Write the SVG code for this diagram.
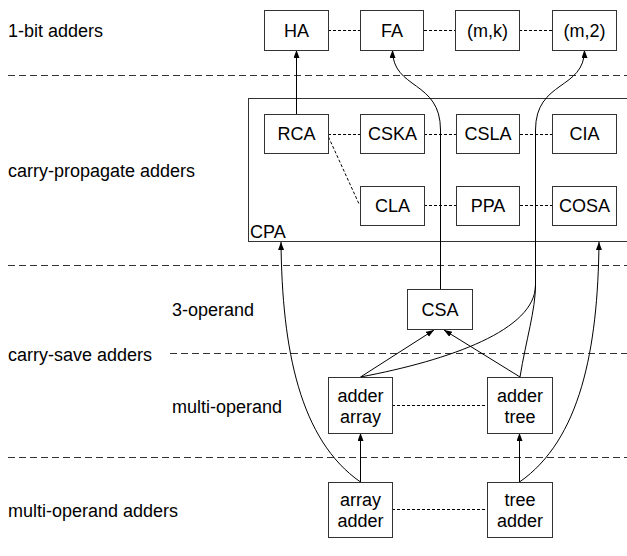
<svg xmlns="http://www.w3.org/2000/svg" width="627" height="556" viewBox="0 0 627 556">
<style>
text{font-family:"Liberation Sans",Arial,sans-serif;font-size:18px;fill:#000}
.c{text-anchor:middle}
.box{fill:#fff;stroke:#333;stroke-width:1}
.sep{stroke:#333;stroke-width:1;stroke-dasharray:7,4;fill:none}
.dot{stroke:#000;stroke-width:1;stroke-dasharray:3,2;fill:none}
.ln{stroke:#000;stroke-width:1;fill:none}
</style>
<defs>
<marker id="ah" markerUnits="userSpaceOnUse" markerWidth="9" markerHeight="8" refX="8" refY="3" orient="auto">
<path d="M0,0 L8,3 L0,6 z" fill="#000"/>
</marker>
</defs>
<rect width="627" height="556" fill="#fff"/>
<g id="separators">
<line class="sep" x1="8" y1="75.5" x2="627" y2="75.5"/>
<line class="sep" x1="8" y1="265.5" x2="627" y2="265.5"/>
<line class="sep" x1="170" y1="353.5" x2="627" y2="353.5"/>
<line class="sep" x1="8" y1="457.5" x2="627" y2="457.5"/>
</g>
<g id="labels">
<text x="8" y="37">1-bit adders</text>
<text x="8" y="177">carry-propagate adders</text>
<text x="172" y="316">3-operand</text>
<text x="8" y="361">carry-save adders</text>
<text x="172" y="413">multi-operand</text>
<text x="8" y="517">multi-operand adders</text>
</g>
<g id="CPA"><rect class="box" x="248.5" y="98.5" width="390" height="143"/><text x="250" y="238">CPA</text></g>
<g id="connectors">
<line class="dot" x1="328" y1="30.5" x2="360" y2="30.5"/>
<line class="dot" x1="424" y1="30.5" x2="455" y2="30.5"/>
<line class="dot" x1="519" y1="30.5" x2="552" y2="30.5"/>
<line class="dot" x1="328" y1="134.5" x2="360" y2="134.5"/>
<line class="dot" x1="424" y1="134.5" x2="456" y2="134.5"/>
<line class="dot" x1="520" y1="134.5" x2="552" y2="134.5"/>
<line class="dot" x1="424" y1="205.5" x2="456" y2="205.5"/>
<line class="dot" x1="520" y1="205.5" x2="552" y2="205.5"/>
<line class="dot" x1="328.5" y1="137" x2="359.5" y2="205"/>
<line class="dot" x1="392" y1="405.5" x2="487" y2="405.5"/>
<line class="dot" x1="392" y1="509.5" x2="487" y2="509.5"/>
<line class="ln" x1="296.5" y1="114" x2="296.5" y2="50" marker-end="url(#ah)"/>
<path class="ln" d="M440.5,289 L440.5,130 C440.5,80 392.5,90 392.5,50" marker-end="url(#ah)"/>
<path class="ln" d="M360.5,377 C450,360 535.5,330 535.5,285 L535.5,130 C535.5,80 584.5,90 584.5,50" marker-end="url(#ah)"/>
<path class="ln" d="M520,377 C526,340 535.5,310 535.5,285"/>
<line class="ln" x1="360.5" y1="377" x2="434" y2="330" marker-end="url(#ah)"/>
<line class="ln" x1="520" y1="377" x2="444" y2="330" marker-end="url(#ah)"/>
<line class="ln" x1="360.5" y1="482" x2="360.5" y2="433" marker-end="url(#ah)"/>
<line class="ln" x1="519.5" y1="482" x2="519.5" y2="433" marker-end="url(#ah)"/>
<path class="ln" d="M360.5,482 C300,440 282,350 281,242" marker-end="url(#ah)"/>
<path class="ln" d="M519.5,482 C580,440 598,350 599,242" marker-end="url(#ah)"/>
</g>
<g id="HA"><rect class="box" x="264.5" y="10.5" width="64" height="40"/><text class="c" x="296.5" y="37">HA</text></g>
<g id="FA"><rect class="box" x="360.5" y="10.5" width="63" height="40"/><text class="c" x="392" y="37">FA</text></g>
<g id="mk"><rect class="box" x="455.5" y="10.5" width="64" height="40"/><text class="c" x="487.5" y="37">(m,k)</text></g>
<g id="m2"><rect class="box" x="552.5" y="10.5" width="64" height="40"/><text class="c" x="584.5" y="37">(m,2)</text></g>
<g id="RCA"><rect class="box" x="264.5" y="114.5" width="64" height="39"/><text class="c" x="296.5" y="140">RCA</text></g>
<g id="CSKA"><rect class="box" x="360.5" y="114.5" width="64" height="39"/><text class="c" x="392.5" y="140">CSKA</text></g>
<g id="CSLA"><rect class="box" x="456.5" y="114.5" width="63" height="39"/><text class="c" x="488" y="140">CSLA</text></g>
<g id="CIA"><rect class="box" x="552.5" y="114.5" width="64" height="39"/><text class="c" x="584.5" y="140">CIA</text></g>
<g id="CLA"><rect class="box" x="360.5" y="186.5" width="64" height="39"/><text class="c" x="392.5" y="212">CLA</text></g>
<g id="PPA"><rect class="box" x="456.5" y="186.5" width="63" height="39"/><text class="c" x="488" y="212">PPA</text></g>
<g id="COSA"><rect class="box" x="552.5" y="186.5" width="64" height="39"/><text class="c" x="584.5" y="212">COSA</text></g>
<g id="CSA"><rect class="box" x="407.5" y="289.5" width="65" height="40"/><text class="c" x="440" y="316">CSA</text></g>
<g id="adderArray"><rect class="box" x="328.5" y="377.5" width="64" height="56"/><text class="c" x="360.5" y="402">adder</text><text class="c" x="360.5" y="423">array</text></g>
<g id="adderTree"><rect class="box" x="487.5" y="377.5" width="65" height="56"/><text class="c" x="520" y="402">adder</text><text class="c" x="520" y="423">tree</text></g>
<g id="arrayAdder"><rect class="box" x="328.5" y="482.5" width="64" height="55"/><text class="c" x="360.5" y="506">array</text><text class="c" x="360.5" y="527">adder</text></g>
<g id="treeAdder"><rect class="box" x="487.5" y="482.5" width="65" height="55"/><text class="c" x="520" y="506">tree</text><text class="c" x="520" y="527">adder</text></g>
</svg>
